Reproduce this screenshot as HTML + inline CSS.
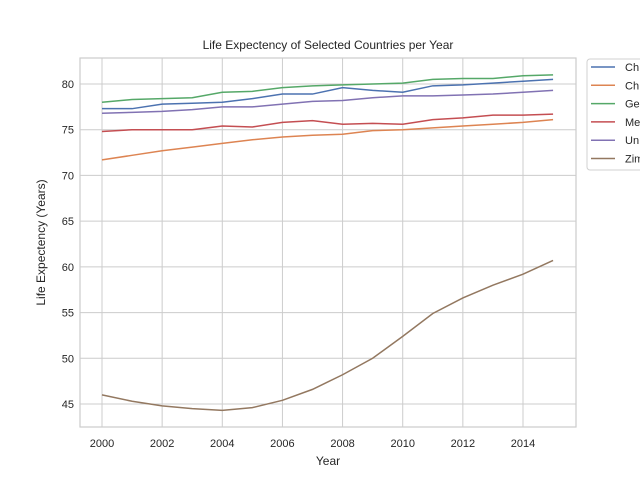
<!DOCTYPE html>
<html><head><meta charset="utf-8"><style>
body{margin:0;background:#fff;}
svg{display:block;font-family:"Liberation Sans","DejaVu Sans",sans-serif;}
</style></head><body>
<svg id="c" width="640" height="480"></svg>
<script>
const years=[2000,2001,2002,2003,2004,2005,2006,2007,2008,2009,2010,2011,2012,2013,2014,2015];
const seriesNames=["Chile","China","Germany","Mexico","United States","Zimbabwe"];
const legendLabels=["Ch","Ch","Ge","Me","Un","Zim"];
const colors=["#4c72b0","#dd8452","#55a868","#c44e52","#8172b3","#937860"];
const chile=[77.3,77.3,77.8,77.9,78.0,78.4,78.9,78.9,79.6,79.3,79.1,79.8,79.9,80.1,80.3,80.5];
const china=[71.7,72.2,72.7,73.1,73.5,73.9,74.2,74.4,74.5,74.9,75.0,75.2,75.4,75.6,75.8,76.1];
const germany=[78.0,78.3,78.4,78.5,79.1,79.2,79.6,79.8,79.9,80.0,80.1,80.5,80.6,80.6,80.9,81.0];
const mexico=[74.8,75.0,75.0,75.0,75.4,75.3,75.8,76.0,75.6,75.7,75.6,76.1,76.3,76.6,76.6,76.7];
const usa=[76.8,76.9,77.0,77.2,77.5,77.5,77.8,78.1,78.2,78.5,78.7,78.7,78.8,78.9,79.1,79.3];
const zimbabwe=[46.0,45.3,44.8,44.5,44.3,44.6,45.4,46.6,48.2,50.0,52.4,54.9,56.6,58.0,59.2,60.7];
const allSeries=[chile,china,germany,mexico,usa,zimbabwe];
const xTicks=[2000,2002,2004,2006,2008,2010,2012,2014];
const yTicks=[45,50,55,60,65,70,75,80];

const NS="http://www.w3.org/2000/svg";
const svg=document.getElementById('c');
const L=80,R=576,T=58,B=427;
const xS=v=>102+(v-2000)*(523-102)/14;
const yS=v=>84+(80-v)*(320/35);
function mk(tag,attrs,parent){const e=document.createElementNS(NS,tag);for(const k in attrs)e.setAttribute(k,attrs[k]);(parent||svg).appendChild(e);return e;}

const grid=mk('g',{});


xTicks.forEach(t=>{
  const l=mk('line',{x1:xS(t),x2:xS(t),y1:T,y2:B,stroke:"#cccccc","stroke-width":1},grid);
  
  
  const tx=mk('text',{x:xS(t),y:B+20,"text-anchor":"middle","font-size":11,fill:"#262626"});
  tx.textContent=t;
  
  
});
yTicks.forEach(t=>{
  const l=mk('line',{x1:L,x2:R,y1:yS(t),y2:yS(t),stroke:"#cccccc","stroke-width":1},grid);
  
  
  const tx=mk('text',{x:L-6,y:yS(t)+4,"text-anchor":"end","font-size":11,fill:"#262626"});
  tx.textContent=t;
  
  
});
const frame=mk('rect',{x:L,y:T,width:R-L,height:B-T,fill:"none",stroke:"#cccccc","stroke-width":1.2});



allSeries.forEach((s,i)=>{
  const p=mk('polyline',{points:s.map((v,j)=>xS(years[j])+","+yS(v)).join(" "),fill:"none",stroke:colors[i],"stroke-width":1.5});
  
  
});

const title=mk('text',{x:(L+R)/2,y:49,"text-anchor":"middle","font-size":12,fill:"#262626"});
title.textContent="Life Expectency of Selected Countries per Year";


const xt=mk('text',{x:(L+R)/2,y:465,"text-anchor":"middle","font-size":12,fill:"#262626"});
xt.textContent="Year";


const yt=mk('text',{x:0,y:0,"text-anchor":"middle","font-size":12,fill:"#262626",transform:"translate(45,"+((T+B)/2)+") rotate(-90)"});
yt.textContent="Life Expectency (Years)";



const leg=mk('g',{});


const lb=mk('rect',{x:587,y:59,width:70,height:111,rx:3,fill:"#fff",stroke:"#d0d0d0","stroke-width":1},leg);


legendLabels.forEach((n,i)=>{
  const y=67+i*18.3;
  const l=mk('line',{x1:591,x2:615,y1:y,y2:y,stroke:colors[i],"stroke-width":1.5},leg);
  
  
  const t=mk('text',{x:625,y:y+4,"font-size":11,fill:"#262626"},leg);
  t.textContent=n;
  
  
});
</script>
</body></html>
